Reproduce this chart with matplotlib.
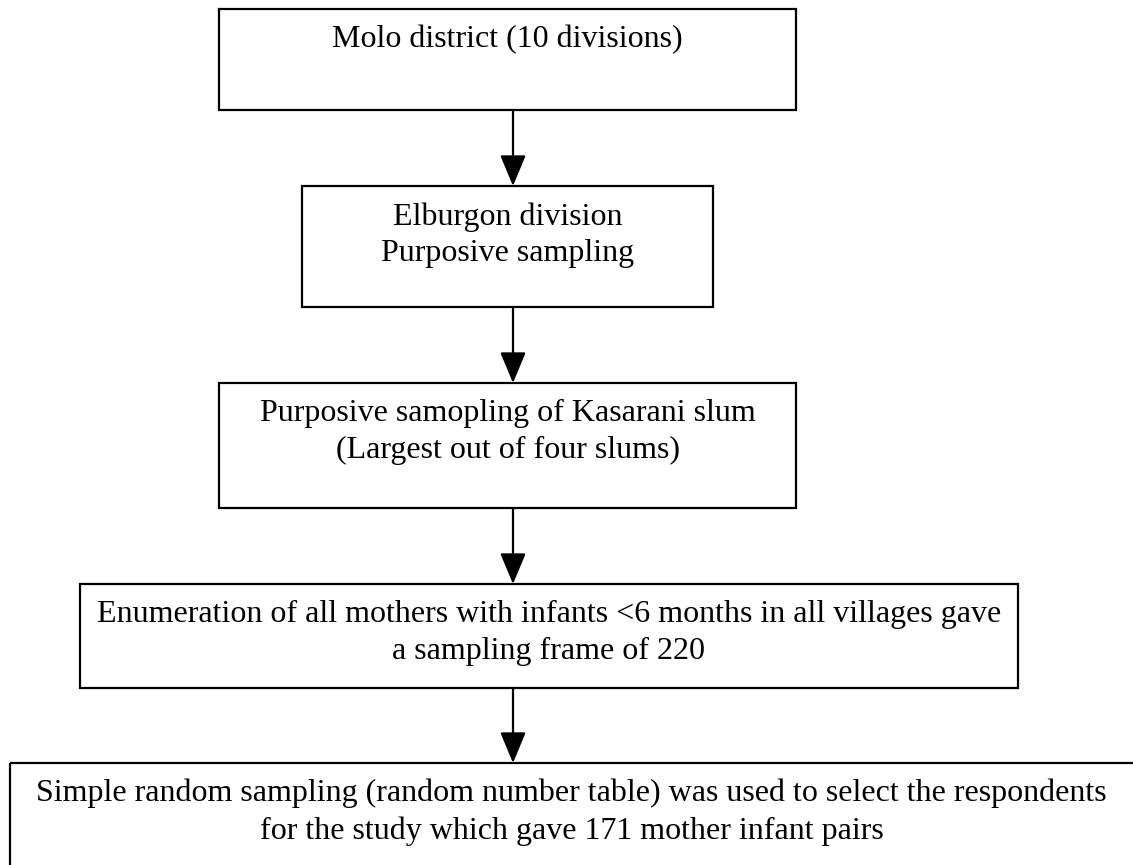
import matplotlib.pyplot as plt
from matplotlib.patches import Rectangle, FancyArrowPatch

plt.rcParams["font.family"] = "Liberation Serif"

# flowchart steps (text per box)
steps = [
    "Molo district (10 divisions)",
    "Elburgon division\nPurposive sampling",
    "Purposive samopling of Kasarani slum\n(Largest out of four slums)",
    "Enumeration of all mothers with infants <6 months in all villages gave\na sampling frame of 220",
    "Simple random sampling (random number table) was used to select the respondents\nfor the study which gave 171 mother infant pairs",
]

# box extents in pixel coordinates (left, right, top, bottom)
box_left = [219, 302, 219, 80, 10]
box_right = [796, 713, 796, 1018, 1140]
box_top = [9, 186, 383, 584, 763]
box_bottom = [110, 307, 508, 688, 870]

arrow_x = 513

fig = plt.figure(figsize=(11.33, 8.65), dpi=100)
ax = fig.add_axes([0, 0, 1, 1])
ax.set_xlim(0, 1133)
ax.set_ylim(865, 0)
ax.axis("off")

for i, txt in enumerate(steps):
    l, r, t, b = box_left[i], box_right[i], box_top[i], box_bottom[i]
    ax.add_patch(Rectangle((l, t), r - l, b - t, fill=False,
                           edgecolor="black", linewidth=1.6))
    cx = (l + min(r, 1133)) / 2
    ax.text(cx, t + 16, txt, ha="center", va="top", fontsize=23,
            linespacing=1.35, color="black")

# connecting arrows
for i in range(len(steps) - 1):
    arr = FancyArrowPatch((arrow_x, box_bottom[i]), (arrow_x, box_top[i + 1]),
                          arrowstyle="-|>,head_length=1.2,head_width=0.5",
                          mutation_scale=16, color="black", linewidth=1.6,
                          shrinkA=0, shrinkB=0)
    ax.add_patch(arr)

plt.savefig("out.png", dpi=100)
